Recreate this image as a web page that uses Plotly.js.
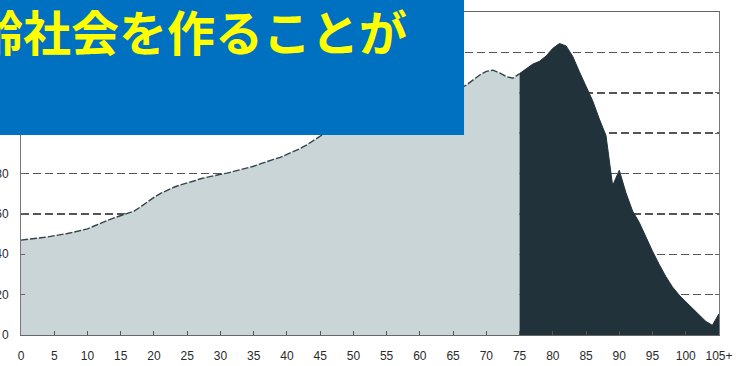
<!DOCTYPE html>
<html>
<head>
<meta charset="utf-8">
<script src="https://cdn.plot.ly/plotly-3.0.1.min.js"></script>
<style>
  html, body { margin: 0; padding: 0; background: #fff; overflow: hidden; }
  #chart { width: 737px; height: 366px; }
</style>
</head>
<body>
<div id="chart"></div>
<script>
// Age in single years (105 = "105+")
const ages = [
  0, 1, 2, 3, 4, 5, 6, 7, 8, 9,
  10, 11, 12, 13, 14, 15, 16, 17, 18, 19,
  20, 21, 22, 23, 24, 25, 26, 27, 28, 29,
  30, 31, 32, 33, 34, 35, 36, 37, 38, 39,
  40, 41, 42, 43, 44, 45, 46, 47, 48, 49,
  50, 51, 52, 53, 54, 55, 56, 57, 58, 59,
  60, 61, 62, 63, 64, 65, 66, 67, 68, 69,
  70, 71, 72, 73, 74, 75, 76, 77, 78, 79,
  80, 81, 82, 83, 84, 85, 86, 87, 88, 89,
  90, 91, 92, 93, 94, 95, 96, 97, 98, 99,
  100, 101, 102, 103, 104, 105
];

// Population per single year of age
const population = [
  47.0, 47.3, 47.8, 48.2, 48.6, 49.1, 49.6, 50.3, 51.0, 51.8,
  52.6, 54.0, 55.6, 56.8, 58.0, 59.2, 60.3, 61.4, 63.5, 66.0,
  68.2, 70.2, 71.9, 73.2, 74.4, 75.2, 76.3, 77.4, 78.2, 79.0,
  79.6, 80.2, 81.0, 81.8, 82.6, 83.6, 84.8, 86.0, 87.0, 88.0,
  89.4, 90.8, 92.4, 94.2, 96.4, 98.5, 100.2, 101.8, 103.0, 104.4,
  105.8, 107.0, 108.2, 109.5, 110.6, 111.6, 112.8, 113.8, 114.8, 115.8,
  116.8, 117.6, 118.6, 119.5, 120.4, 121.3, 122.2, 123.8, 126.2, 128.8,
  130.6, 131.2, 129.8, 128.0, 127.2, 129.5, 132.0, 134.2, 135.6, 138.2,
  142.0, 144.4, 143.2, 138.0, 130.4, 123.2, 116.0, 107.0, 98.8, 74.0,
  81.6, 70.5, 61.4, 55.8, 48.5, 41.5, 35.0, 29.0, 23.8, 19.8,
  16.5, 13.2, 9.6, 6.8, 4.8, 10.5
];

const ageTickVals = [0, 5, 10, 15, 20, 25, 30, 35, 40, 45, 50, 55, 60, 65, 70, 75, 80, 85, 90, 95, 100, 105];
const ageTickText = ["0", "5", "10", "15", "20", "25", "30", "35", "40", "45", "50",
                     "55", "60", "65", "70", "75", "80", "85", "90", "95", "100", "105+"];
const valueTicks = [0, 20, 40, 60, 80, 100, 120, 140, 160];
// Upper labels sit behind the title banner, so they are left blank
const valueTickText = ["0", "20", "40", "60", "80", "", "", "", ""];

const oldAgeStart = 75;
const bannerText = "齢社会を作ることが";

// Split into the under-75 and 75-and-over bands, sharing the age-75 point
const cut = ages.indexOf(oldAgeStart);
const youngAges = ages.slice(0, cut + 1);
const youngPop = population.slice(0, cut + 1);
const oldAges = ages.slice(cut);
const oldPop = population.slice(cut);

const tickFont = { family: "Liberation Sans, Arial, sans-serif", size: 12, color: "#2a2a2a" };

const traces = [
  {
    x: youngAges, y: youngPop, type: "scatter", mode: "lines",
    fill: "tozeroy", fillcolor: "#c9d5d7",
    line: { color: "#34434a", width: 1.4, dash: "7px,2px" },
    hoverinfo: "skip"
  },
  {
    x: oldAges, y: oldPop, type: "scatter", mode: "lines",
    fill: "tozeroy", fillcolor: "#22323a",
    line: { color: "#22323a", width: 1 },
    hoverinfo: "skip"
  }
];

const layout = {
  width: 737, height: 366,
  margin: { l: 21, r: 18, t: 12, b: 31 },
  paper_bgcolor: "#ffffff", plot_bgcolor: "#ffffff",
  showlegend: false,
  xaxis: {
    range: [0, 105], tickvals: ageTickVals, ticktext: ageTickText,
    ticks: "inside", ticklen: 4, tickcolor: "#555",
    showline: true, linecolor: "#666", linewidth: 1, mirror: true,
    showgrid: false, zeroline: false, tickfont: tickFont,
    ticklabelstandoff: 10, fixedrange: true
  },
  yaxis: {
    range: [0, 160], tickvals: valueTicks, ticktext: valueTickText,
    ticks: "inside", ticklen: 4, tickcolor: "#666",
    showline: true, linecolor: "#777", linewidth: 1, mirror: "ticks",
    showgrid: true, gridcolor: "#555", griddash: "8px,4px", gridwidth: 1.5,
    zeroline: false, tickfont: tickFont, ticklabelstandoff: 9, fixedrange: true
  },
  shapes: [
    {
      type: "rect", xref: "paper", yref: "paper", layer: "above",
      x0: -0.04, x1: 0.6347, y0: 0.619, y1: 1.05,
      fillcolor: "#0070c0", line: { width: 0 }
    }
  ],
  annotations: [
    {
      text: "<b>" + bannerText + "</b>", showarrow: false,
      xref: "paper", yref: "paper", x: -0.0688, y: 0.944,
      xanchor: "left", yanchor: "middle",
      font: { family: "Noto Sans CJK JP, sans-serif", size: 48, color: "#ffff00" }
    }
  ]
};

Plotly.newPlot("chart", traces, layout, { displayModeBar: false, staticPlot: true });
</script>
</body>
</html>
